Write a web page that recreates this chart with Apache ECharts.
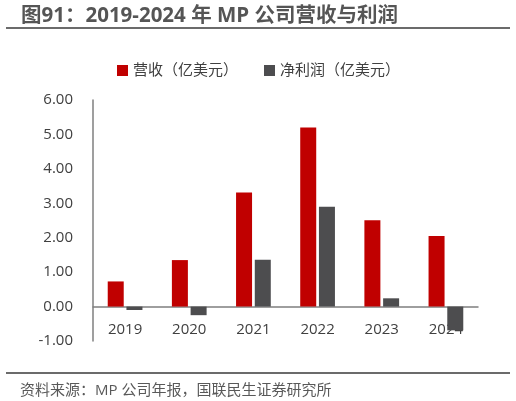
<!DOCTYPE html>
<html>
<head>
    <meta charset="utf-8">
    <title>MP 公司营收与利润</title>
    <script src="https://cdn.jsdelivr.net/npm/echarts@6/dist/echarts.min.js"></script>
    <style>
        html, body { margin: 0; padding: 0; background: #fff; }
    </style>
</head>
<body>
    <div id="main" style="width: 516px;height:401px;"></div>
    <script type="text/javascript">
        // 数据
        var years = ['2019', '2020', '2021', '2022', '2023', '2024'];
        var revenue = [0.73, 1.35, 3.31, 5.20, 2.51, 2.05];      // 营收（亿美元）
        var netProfit = [-0.10, -0.25, 1.36, 2.90, 0.24, -0.69]; // 净利润（亿美元）
        var seriesNames = ['营收（亿美元）', '净利润（亿美元）'];

        var FONT = "'Open Sans', 'Noto Sans CJK SC', sans-serif";
        var myChart = echarts.init(document.getElementById('main'));

        var option = {
            animation: false,
            textStyle: { fontFamily: FONT },
            title: [
                {
                    text: '图91：2019-2024 年 MP 公司营收与利润',
                    left: 16, top: 1,
                    textStyle: { fontSize: 20.5, fontWeight: 'bold', color: '#555555', fontFamily: FONT }
                },
                {
                    text: '资料来源：MP 公司年报，国联民生证券研究所',
                    left: 15, top: 378,
                    textStyle: { fontSize: 15, fontWeight: 'normal', color: '#595959', fontFamily: FONT }
                }
            ],
            graphic: [
                { type: 'line', shape: { x1: 6, y1: 28, x2: 510, y2: 28 }, style: { stroke: '#6b6b6b', lineWidth: 2 } },
                { type: 'line', shape: { x1: 6, y1: 373, x2: 510, y2: 373 }, style: { stroke: '#6b6b6b', lineWidth: 2 } }
            ],
            legend: {
                data: seriesNames,
                left: 112, top: 58,
                itemWidth: 11, itemHeight: 11, itemGap: 26,
                icon: 'rect',
                textStyle: { fontSize: 15, color: '#404040', fontFamily: FONT }
            },
            grid: { left: 93, right: 38, top: 100, bottom: 60, containLabel: false },
            xAxis: {
                type: 'category',
                data: years,
                axisLine: { onZero: true, lineStyle: { color: '#7f7f7f', width: 1.5 } },
                axisTick: { show: false },
                axisLabel: { fontSize: 15, color: '#404040', margin: -19 }
            },
            yAxis: {
                type: 'value',
                min: -1, max: 6, interval: 1,
                axisLine: { show: true, lineStyle: { color: '#7f7f7f', width: 1.5 } },
                axisTick: { show: false },
                splitLine: { show: false },
                axisLabel: {
                    fontSize: 15, color: '#404040', margin: 20,
                    formatter: function (v) { return v.toFixed(2); }
                }
            },
            series: [
                {
                    name: seriesNames[0], type: 'bar', data: revenue,
                    barWidth: 16, barGap: '17%',
                    itemStyle: { color: '#C00000' }
                },
                {
                    name: seriesNames[1], type: 'bar', data: netProfit,
                    barWidth: 16,
                    itemStyle: { color: '#4D4D4F' }
                }
            ]
        };

        myChart.setOption(option);
    </script>
</body>
</html>
